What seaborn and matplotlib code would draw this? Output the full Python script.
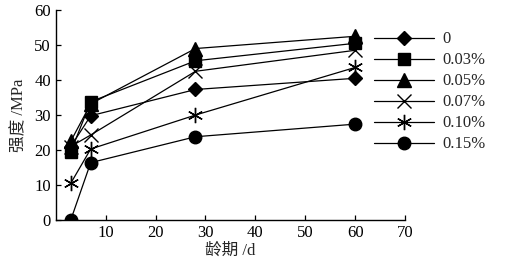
import matplotlib
matplotlib.use("Agg")
import matplotlib.pyplot as plt
import seaborn as sns
import pandas as pd
from matplotlib.lines import Line2D

sns.set_theme(style="ticks")
plt.rcParams['font.family'] = ['Liberation Serif', 'Noto Sans CJK SC']

days = [3, 7, 28, 60]
labels = ["0", "0.03%", "0.05%", "0.07%", "0.10%", "0.15%"]
s0 = [21.0, 29.8, 37.3, 40.5]
s003 = [19.5, 33.8, 45.5, 50.5]
s005 = [22.5, 33.2, 49.0, 52.5]
s007 = [21.0, 24.3, 42.5, 48.5]
s010 = [10.5, 20.3, 30.0, 43.6]
s015 = [0.0, 16.4, 23.8, 27.4]
series = [s0, s003, s005, s007, s010, s015]
markers = ["D", "s", "^", "x", (6, 2, 0), "o"]
msizes = [7.5, 8.5, 9.5, 10, 11, 9]

fig = plt.figure(figsize=(5.07, 2.71), dpi=100)
ax = fig.add_axes([0.110, 0.188, 0.689, 0.775])

handles = []
for lab, vals, m, ms in zip(labels, series, markers, msizes):
    df = pd.DataFrame({"day": days, "val": vals})
    sns.lineplot(data=df, x="day", y="val", ax=ax, color="black", marker=m,
                 markersize=ms, linewidth=0.9, markeredgewidth=1.0,
                 markerfacecolor="black", markeredgecolor="black", legend=False)
    handles.append(Line2D([], [], color="black", marker=m, markersize=ms,
                          linewidth=0.9, markerfacecolor="black",
                          markeredgecolor="black", markeredgewidth=1.0))

ax.set_xlim(0, 70)
ax.set_ylim(0, 60)
ax.set_xticks([10, 20, 30, 40, 50, 60, 70])
ax.set_yticks([0, 10, 20, 30, 40, 50, 60])
ax.tick_params(direction="in", length=3.5, width=0.9, labelsize=12, colors="black")
for sp in ["top", "right"]:
    ax.spines[sp].set_visible(False)
for sp in ["left", "bottom"]:
    ax.spines[sp].set_linewidth(1.0)
    ax.spines[sp].set_color("black")
ax.set_xlabel("龄期 /d", fontsize=12, labelpad=1)
ax.set_ylabel("强度 /MPa", fontsize=12, labelpad=5)

fig.legend(handles, labels, loc="upper left", bbox_to_anchor=(0.722, 0.915),
           frameon=False, handlelength=3.6, labelspacing=0.3, handletextpad=0.5,
           borderpad=0, fontsize=12)

fig.savefig("out.png", dpi=100)
